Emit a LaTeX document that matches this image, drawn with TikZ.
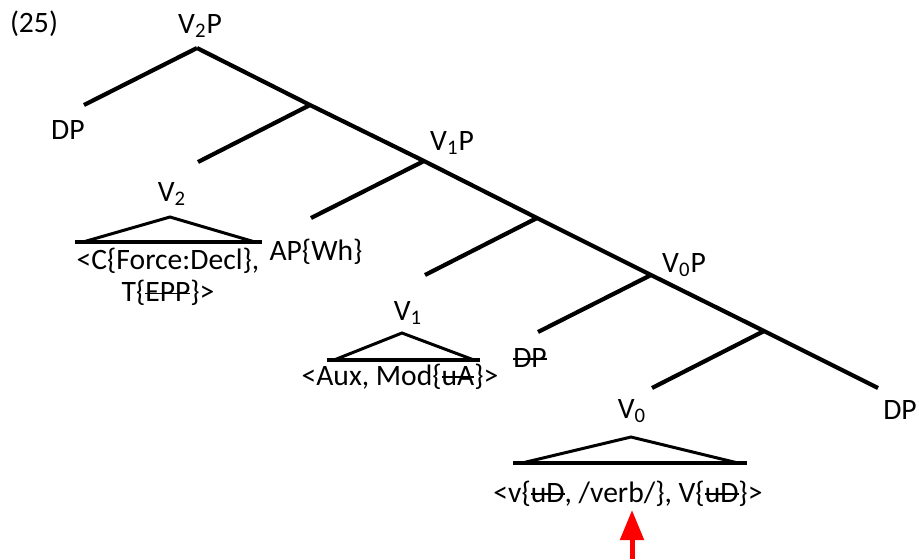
\documentclass[tikz,border=0pt]{standalone}
\usepackage{fontspec}
\setmainfont{Carlito}
\usetikzlibrary{arrows.meta}
\newcommand{\strk}[1]{\leavevmode\setbox0\hbox{#1}\rlap{\rule[0.25em]{\wd0}{0.9pt}}\box0}
\newcommand{\sub}[1]{\textsubscript{#1}}

\begin{document}
\begin{tikzpicture}[x=0.5pt, y=-0.5pt,
    lbl/.style={anchor=base, inner sep=0pt, font=\fontsize{14.8}{16}\selectfont},
    branch/.style={black, line width=2.1pt},
    tri/.style={black, line width=1.5pt, line join=miter},
    triline/.style={black, line width=1.8pt},
    cue/.style={red, line width=2.5pt, -{Triangle[length=15pt, width=11.5pt]}}]
    \useasboundingbox (0,0) rectangle (919,559);

    % Hauptast (spine) von V2P nach unten rechts
    \coordinate (s0) at (197,48);
    \coordinate (s1) at (310,105);
    \coordinate (s2) at (424,161);
    \coordinate (s3) at (537,218);
    \coordinate (s4) at (651,275);
    \coordinate (s5) at (764,331);
    \coordinate (s6) at (878,388);

    % linke Aeste
    \coordinate (l0) at (84,105);
    \coordinate (l1) at (198,162);
    \coordinate (l2) at (311,218);
    \coordinate (l3) at (425,275);
    \coordinate (l4) at (538,332);
    \coordinate (l5) at (652,388);

    \draw[branch] (s0) -- (s1) -- (s2) -- (s3) -- (s4) -- (s5) -- (s6);
    \draw[branch] (s0) -- (l0);
    \draw[branch] (s1) -- (l1);
    \draw[branch] (s2) -- (l2);
    \draw[branch] (s3) -- (l3);
    \draw[branch] (s4) -- (l4);
    \draw[branch] (s5) -- (l5);

    % Beschriftungen
    \node[lbl] (ex) at (34,32) {(25)};
    \node[lbl] (v2p) at (200,33) {V\sub{2}P};
    \node[lbl] (dpa) at (68,139) {DP};
    \node[lbl] (v1p) at (452,150) {V\sub{1}P};
    \node[lbl] (v0p) at (684,272) {V\sub{0}P};
    \node[lbl] (dpc) at (900,419) {DP};
    \node[lbl] (apwh) at (316,260) {AP\{Wh\}};
    \node[lbl] (dpb) at (530,367) {\strk{DP}};

    % V2 mit Dreieck
    \node[lbl] (v2) at (172,201) {V\sub{2}};
    \coordinate (v2top) at (170,217);
    \coordinate (v2l) at (83,242);
    \coordinate (v2r) at (255,242);
    \coordinate (v2bl) at (75,242);
    \coordinate (v2br) at (262,242);
    \draw[tri] (v2l) -- (v2top) -- (v2r);
    \draw[triline] (v2bl) -- (v2br);
    \node[lbl, anchor=north, align=center] (v2txt) at (168,248)
        {<C\{Force:Decl\},\\T\{\strk{EPP}\}>};

    % V1 mit Dreieck
    \node[lbl] (v1) at (408,320) {V\sub{1}};
    \coordinate (v1top) at (402,333);
    \coordinate (v1l) at (334,360);
    \coordinate (v1r) at (474,360);
    \coordinate (v1bl) at (327,360);
    \coordinate (v1br) at (480,360);
    \draw[tri] (v1l) -- (v1top) -- (v1r);
    \draw[triline] (v1bl) -- (v1br);
    \node[lbl] (v1txt) at (400,385) {<Aux, Mod\{\strk{uA}\}>};

    % V0 mit Dreieck
    \node[lbl] (v0) at (632,418) {V\sub{0}};
    \coordinate (v0top) at (631,437);
    \coordinate (v0l) at (522,463);
    \coordinate (v0r) at (738,463);
    \coordinate (v0bl) at (513,463);
    \coordinate (v0br) at (747,463);
    \draw[tri] (v0l) -- (v0top) -- (v0r);
    \draw[triline] (v0bl) -- (v0br);
    \node[lbl] (v0txt) at (628,502) {<v\{\strk{uD}, /verb/\}, V\{\strk{uD}\}>};

    % roter Pfeil
    \coordinate (cuefoot) at (632,559);
    \coordinate (cuetip) at (632,510);
    \draw[cue] (cuefoot) -- (cuetip);
\end{tikzpicture}
\end{document}
